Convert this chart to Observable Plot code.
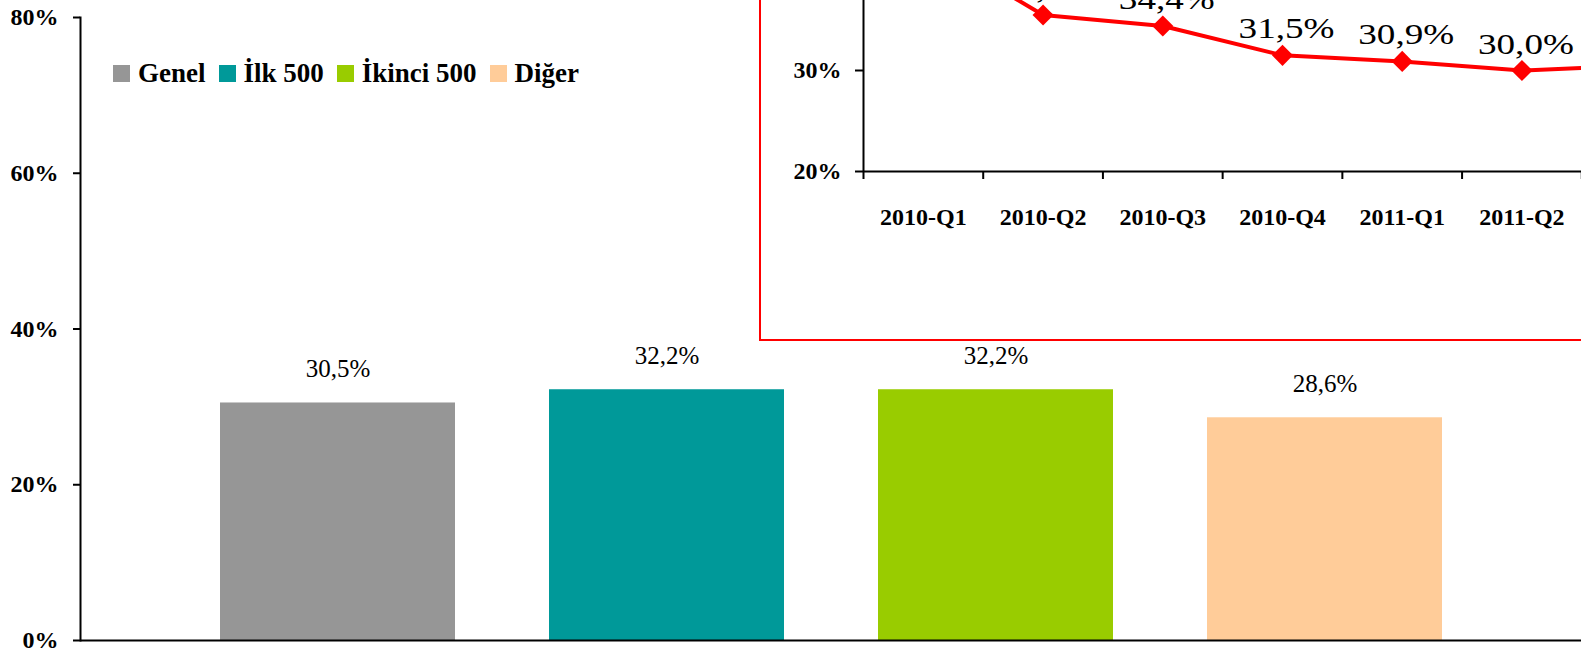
<!DOCTYPE html>
<html><head><meta charset="utf-8">
<script src="https://cdn.jsdelivr.net/npm/d3@7"></script>
<script src="https://cdn.jsdelivr.net/npm/@observablehq/plot@0.6"></script>
<style>
html,body{margin:0;padding:0;background:#fff;}
#wrap{position:relative;width:1581px;height:651px;overflow:hidden;background:#fff;}
#legend{position:absolute;left:113px;top:58px;display:flex;align-items:center;font-family:"Liberation Serif",serif;font-weight:bold;font-size:27px;color:#000;white-space:nowrap;}
#legend .sw{width:17px;height:17px;margin-right:8px;display:inline-block;}
#legend .lab{margin-right:13px;}
#inset{position:absolute;left:759px;top:-200px;width:1000px;height:537px;border:2px solid #ff0000;background:#fff;overflow:hidden;}
</style></head>
<body><div id="wrap"></div>
<script>
// ---- data ----
const categories = ["Genel", "İlk 500", "İkinci 500", "Diğer"];
const shares = [0.305, 0.322, 0.322, 0.286];
const colors = ["#969696", "#009999", "#99CC00", "#FFCC99"];
const yTicks = [0, 0.2, 0.4, 0.6, 0.8];

const quarters = ["2010-Q1", "2010-Q2", "2010-Q3", "2010-Q4", "2011-Q1", "2011-Q2", "2011-Q3"];
const quarterValues = [0.425, 0.355, 0.344, 0.315, 0.309, 0.300, 0.305];
const insetTicks = [0.2, 0.3, 0.4, 0.5];

// ---- helpers ----
const fmt = v => (v * 100).toFixed(1).replace(".", ",") + "%";
const pct = v => Math.round(v * 100) + "%";

const wrap = document.getElementById("wrap");
const barData = categories.map((c, i) => ({category: c, share: shares[i]}));

const main = Plot.plot({
  width: 1581, height: 651,
  marginLeft: 80, marginRight: 0, marginTop: 17, marginBottom: 11,
  style: {fontFamily: "Liberation Serif", background: "white", color: "black", overflow: "visible"},
  x: {domain: categories, range: [80, 1582], paddingInner: 0.2857, paddingOuter: 0.4255, axis: null},
  y: {domain: [0, 0.8], axis: null},
  color: {domain: categories, range: colors},
  marks: [
    Plot.barY(barData, {x: "category", y: "share", fill: "category"}),
    Plot.text(barData, {x: "category", y: "share", text: d => fmt(d.share), lineAnchor: "bottom", dy: -26, fontSize: 25, fill: "black"}),
    Plot.ruleY([0], {stroke: "black", strokeWidth: 2}),
    Plot.frame({anchor: "left", stroke: "black", strokeWidth: 2}),
    Plot.axisY({ticks: yTicks, tickFormat: pct, label: null, tickSize: 7, tickPadding: 15, fontSize: 24, fontWeight: "bold", color: "black", strokeWidth: 2})
  ]
});
wrap.appendChild(main);

// legend
const legend = document.createElement("div");
legend.id = "legend";
categories.forEach((c, i) => {
  const sw = document.createElement("span");
  sw.className = "sw"; sw.style.background = colors[i];
  const lab = document.createElement("span");
  lab.className = "lab"; lab.textContent = c;
  legend.appendChild(sw); legend.appendChild(lab);
});
wrap.appendChild(legend);

// inset
const qData = quarters.map((q, i) => ({q, i: i + 0.5, v: quarterValues[i]}));
const insetBox = document.createElement("div");
insetBox.id = "inset";
const inset = Plot.plot({
  width: 1000, height: 537,
  marginLeft: 102, marginRight: 60, marginTop: 66, marginBottom: 168,
  style: {fontFamily: "Liberation Serif", background: "white", color: "black", overflow: "visible"},
  x: {domain: [0, 7], range: [102, 940], axis: null},
  y: {domain: [0.2, 0.5], axis: null},
  marks: [
    Plot.ruleY([0.2], {stroke: "black", strokeWidth: 2}),
    Plot.ruleX([0], {y1: 0.2, y2: 0.5, stroke: "black", strokeWidth: 2}),
    Plot.axisY({ticks: insetTicks, tickFormat: pct, label: null, tickSize: 8, tickPadding: 14, fontSize: 24, fontWeight: "bold", color: "black", strokeWidth: 2}),
    Plot.axisX({ticks: d3.range(0, 8), tickFormat: () => "", label: null, tickSize: 8, color: "black", strokeWidth: 2}),
    Plot.axisX({ticks: qData.map(d => d.i), tickFormat: d => quarters[Math.floor(d)], label: null, tickSize: 0, tickPadding: 36, fontSize: 24, fontWeight: "bold", color: "black"}),
    Plot.line(qData, {x: "i", y: "v", stroke: "#ff0000", strokeWidth: 4}),
    Plot.dot(qData, {x: "i", y: "v", symbol: "diamond2", r: 9.5, fill: "#ff0000", stroke: "none"}),
    Plot.text(qData, {x: "i", y: "v", text: d => fmt(d.v), lineAnchor: "bottom", dx: 4, dy: -17, fontSize: 29, fill: "black", className: "vlab"})
  ]
});
insetBox.appendChild(inset);
wrap.appendChild(insetBox);

// the inset's value labels are horizontally stretched in the reference
inset.querySelectorAll("g.vlab text, .vlab text").forEach(t => {
  const w = t.getComputedTextLength();
  if (w > 0) {
    t.setAttribute("textLength", (w * 1.28).toFixed(1));
    t.setAttribute("lengthAdjust", "spacingAndGlyphs");
  }
});
</script>
</body></html>
